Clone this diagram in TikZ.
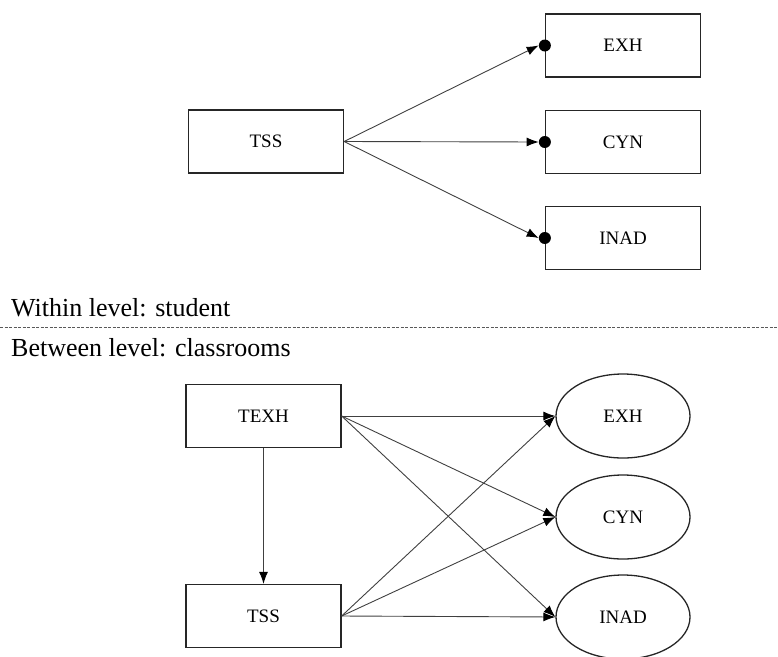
\documentclass[tikz,border=0pt]{standalone}
\usepackage{fontspec}
\setmainfont{Liberation Serif}
\usetikzlibrary{shapes.geometric,arrows.meta}
\begin{document}
\begin{tikzpicture}[x=1pt,y=-1pt,
  box/.style={draw=black!85,line width=1.3pt,minimum width=155pt,minimum height=63pt,inner sep=0pt,font=\fontsize{19}{22}\selectfont},
  oval/.style={ellipse,draw=black!85,line width=1.3pt,minimum width=134pt,minimum height=84pt,inner sep=0pt,font=\fontsize{19}{22}\selectfont},
  dotmark/.style={circle,fill=black,minimum size=12pt,inner sep=0pt},
  arr/.style={draw=black!75,line width=0.9pt,-{Latex[length=12pt,width=9pt,black]}},
  lvl/.style={anchor=base west,inner sep=0pt,font=\fontsize{26}{30}\selectfont}]
\useasboundingbox (0,0) rectangle (778,656);
% within level
\node[box] (tss1) at (266,141.5) {TSS};
\node[box] (exh1) at (623,45.5) {EXH};
\node[box] (cyn1) at (623,142) {CYN};
\node[box] (inad1) at (623,238) {INAD};
\node[dotmark] (d1) at (exh1.west) {};
\node[dotmark] (d2) at (cyn1.west) {};
\node[dotmark] (d3) at (inad1.west) {};
\draw[arr] (tss1.east) -- (d1.west);
\draw[arr] (tss1.east) -- (d2.west);
\draw[arr] (tss1.east) -- (d3.west);
% labels and separator
\node[lvl] (within) at (11,316) {Within level: student};
\node[lvl] (between) at (11,356) {Between level: classrooms};
\coordinate (sepL) at (0,327);
\coordinate (sepR) at (778,327);
\draw[black!65,line width=0.9pt,dash pattern=on 3pt off 1.5pt] (sepL) -- (sepR);
% between level
\node[box] (texh) at (263.5,416) {TEXH};
\node[box] (tss2) at (263.5,616) {TSS};
\node[oval] (exh2) at (623,416) {EXH};
\node[oval] (cyn2) at (623,517) {CYN};
\node[oval] (inad2) at (623,617) {INAD};
\draw[arr] (texh.south) -- (tss2.north);
\draw[arr] (texh.east) -- (exh2.west);
\draw[arr] (texh.east) -- (cyn2.west);
\draw[arr] (texh.east) -- (inad2.west);
\draw[arr] (tss2.east) -- (exh2.west);
\draw[arr] (tss2.east) -- (cyn2.west);
\draw[arr] (tss2.east) -- (inad2.west);
\end{tikzpicture}
\end{document}
